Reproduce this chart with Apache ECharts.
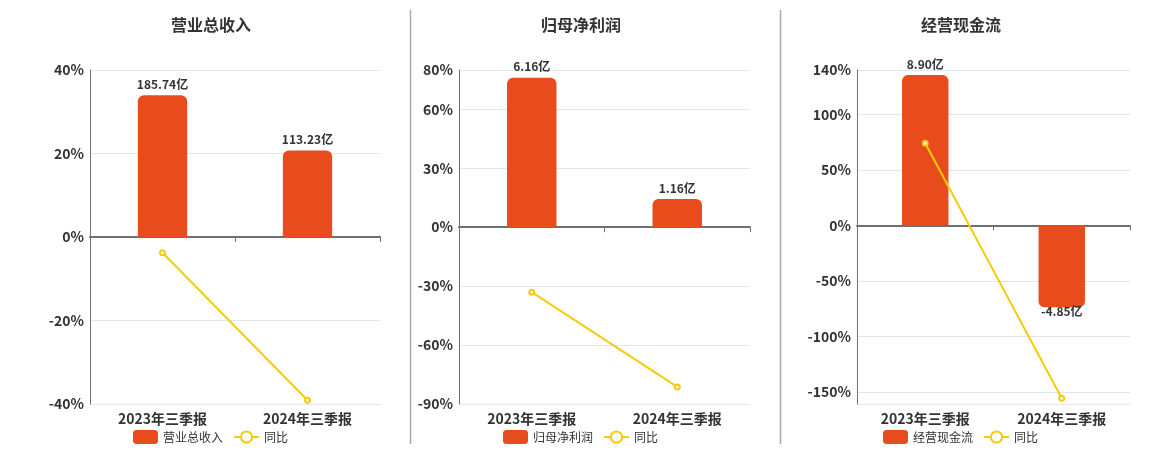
<!DOCTYPE html>
<html>
<head>
<meta charset="utf-8">
<script src="https://cdn.jsdelivr.net/npm/echarts@6/dist/echarts.min.js"></script>
<style>
html,body{margin:0;padding:0;background:#fff;}
#c{width:1160px;height:450px;}
</style>
</head>
<body>
<div id="c"></div>
<script>
// ---- data ----
var categories = ['2023年三季报', '2024年三季报'];
var titles = ['营业总收入', '归母净利润', '经营现金流'];
var revenue = [185.74, 113.23];      // 亿
var netProfit = [6.16, 1.16];        // 亿
var opCashFlow = [8.90, -4.85];      // 亿
var revenueYoY = [-3.76, -39.1];     // %
var netProfitYoY = [-33.1, -81.3];   // %
var opCashFlowYoY = [73.9, -155.9];  // %
var yoyName = '同比';

var barSets = [revenue, netProfit, opCashFlow];
var yoySets = [revenueYoY, netProfitYoY, opCashFlowYoY];

// ---- layout ----
var grids = [
  {left: 90, right: 780, top: 70, bottom: 46},
  {left: 459, right: 410, top: 70, bottom: 46},
  {left: 857, right: 30, top: 70, bottom: 46}
];
var pctAxes = [
  {min: -40, max: 40, interval: 20},
  {min: -90, max: 80, interval: 30},
  {min: -161, max: 140, hideMin: true}
];
var barAxes = [
  {min: -218.7, max: 218.7},
  {min: -7.287, max: 6.478},
  {min: -10.578, max: 9.198}
];
var titleLeft = [166, 536, 916];
var legendLeft = [128, 498, 878];

var FONT = 'Noto Sans CJK SC';
var BAR_COLOR = '#E84C1C';
var LINE_COLOR = '#F5CB0C';

var option = {
  animation: false,
  textStyle: {fontFamily: FONT},
  title: [], legend: [], grid: [], xAxis: [], yAxis: [], series: [],
  graphic: [
    {type: 'line', shape: {x1: 410.5, y1: 10, x2: 410.5, y2: 444}, style: {stroke: '#aaaaaa', lineWidth: 1.5}},
    {type: 'line', shape: {x1: 780.5, y1: 10, x2: 780.5, y2: 444}, style: {stroke: '#aaaaaa', lineWidth: 1.5}}
  ]
};

for (var i = 0; i < 3; i++) {
  option.title.push({
    text: titles[i], left: titleLeft[i], top: 12,
    textStyle: {fontFamily: FONT, fontSize: 16, fontWeight: 'bold', color: '#333'}
  });
  option.legend.push({
    data: [titles[i], yoyName], left: legendLeft[i], top: 425,
    itemWidth: 25, itemHeight: 14, itemGap: 10,
    textStyle: {fontFamily: FONT, fontSize: 12, color: '#333'}
  });
  option.grid.push(Object.assign({containLabel: false}, grids[i]));
  // labeled axis at bottom
  option.xAxis.push({
    type: 'category', gridIndex: i, data: categories, position: 'bottom',
    axisLine: {show: false, onZero: false}, axisTick: {show: false},
    axisLabel: {fontFamily: FONT, fontSize: 14, fontWeight: 'bold', color: '#333', margin: 8}
  });
  // zero line axis
  option.xAxis.push({
    type: 'category', gridIndex: i, data: categories, position: 'top',
    axisLine: {show: true, onZero: true, onZeroAxisIndex: 2 * i, lineStyle: {color: '#6E7079', width: 2}},
    axisTick: {show: true, inside: true, length: 5, lineStyle: {color: '#6E7079'}},
    axisLabel: {show: false}
  });
  var pa = pctAxes[i];
  (function (pa) {
    var ax = {
      type: 'value', gridIndex: i, min: pa.min, max: pa.max,
      axisLine: {show: true, lineStyle: {color: '#6E7079', width: 1}},
      axisTick: {show: false},
      splitLine: {lineStyle: {color: '#E0E6F1'}},
      axisLabel: {
        fontFamily: FONT, fontSize: 14, fontWeight: 'bold', color: '#333', margin: 6,
        formatter: function (v) {
          if (pa.hideMin && v === pa.min) return '';
          return v + '%';
        }
      }
    };
    if (pa.interval) ax.interval = pa.interval;
    option.yAxis.push(ax);
  })(pa);
  option.yAxis.push({
    type: 'value', gridIndex: i, min: barAxes[i].min, max: barAxes[i].max, show: false,
    splitLine: {show: false}
  });
  option.series.push({
    name: titles[i], type: 'bar', xAxisIndex: 2 * i, yAxisIndex: 2 * i + 1,
    barWidth: '34%',
    data: barSets[i].map(function (v) {
      return {
        value: v,
        itemStyle: {borderRadius: v >= 0 ? [6, 6, 0, 0] : [0, 0, 6, 6]},
        label: {position: v >= 0 ? 'top' : 'bottom', distance: v >= 0 ? 5 : -2}
      };
    }),
    itemStyle: {color: BAR_COLOR},
    label: {
      show: true, fontFamily: FONT, fontSize: 12, fontWeight: 'bold', color: '#333',
      formatter: function (p) { return p.value.toFixed(2) + '亿'; }
    },
    z: 1
  });
  option.series.push({
    name: yoyName, type: 'line', xAxisIndex: 2 * i, yAxisIndex: 2 * i,
    data: yoySets[i], symbol: 'emptyCircle', symbolSize: 5,
    lineStyle: {color: LINE_COLOR, width: 2}, itemStyle: {color: LINE_COLOR},
    z: 3
  });
}

var chart = echarts.init(document.getElementById('c'));
chart.setOption(option);
</script>
</body>
</html>
